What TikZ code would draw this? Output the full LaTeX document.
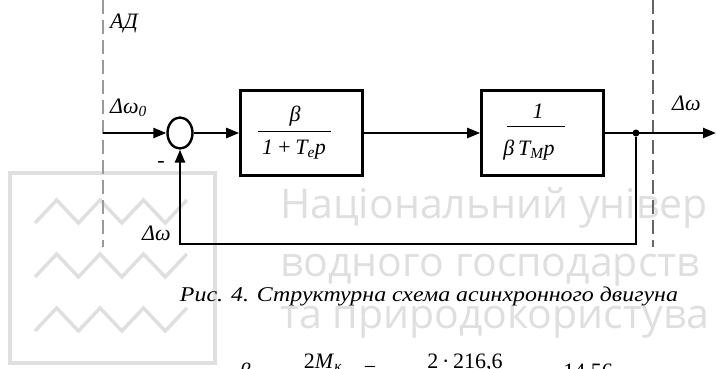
\documentclass[tikz,border=0pt]{standalone}
\usepackage{fontspec}
\usepackage{graphicx}
\setmainfont{Liberation Serif}
\newfontfamily\wmfont{Open Sans}
\usetikzlibrary{calc,arrows.meta,shapes.geometric}

\tikzset{
    blk/.style={draw, line width=2.6pt, minimum width=122pt, minimum height=85pt, inner sep=0pt},
    sig/.style={line width=2.4pt, -{Triangle[length=13pt,width=10pt]}},
    lbl/.style={inner sep=0pt, anchor=base west, font=\fontsize{22}{24}\selectfont\itshape},
    frac/.style={inner sep=0pt, anchor=base, font=\fontsize{22}{25}\selectfont\itshape},
    bnd/.style={line width=1.2pt, dash pattern=on 14pt off 6pt},
    wm/.style={inner sep=0pt, anchor=base west, text=gray!25, font=\wmfont\fontsize{41}{44}\selectfont},
    wmline/.style={draw=gray!25, line width=3.5pt, line join=miter}
}

\begin{document}
\begin{tikzpicture}[x=1pt,y=-1pt]
    \useasboundingbox (0,0) rectangle (716,368);
    \clip (0,0) rectangle (716,368);
    \pgfmathsetmacro{\ym}{133}	%signal line

    % watermark
    \draw[wmline] (10,173) rectangle (215,363);
    \foreach \dy in {0,54,108}{
        \draw[wmline] (35,223+\dy) -- ++(21.7,-23) -- ++(21.7,23) -- ++(21.7,-23) -- ++(21.7,23)
            -- ++(21.7,-23) -- ++(21.7,23) -- ++(21.7,-23);
    }
    \node[wm] (wm1) at (280,218) {Національний універ};
    \node[wm] (wm2) at (280,276) {водного господарств};
    \node[wm] (wm3) at (280,328) {та природокористува};

    % boundary of the motor
    \draw[bnd,black!40] (103,0) -- (103,247);
    \draw[bnd,black!60] (653,0) -- (653,247);
    \node[lbl] (ad) at (110,28) {АД};

    \coordinate (in) at (103,\ym);
    \coordinate (out) at (716,\ym);
    \coordinate (fb) at (636,244);

    \node[ellipse, draw, line width=2.4pt, minimum width=25pt, minimum height=31pt, inner sep=0pt] (sum) at (180,\ym) {};
    \node[blk] (blk1) at (301.5,\ym) {};
    \node[blk] (blk2) at (542.5,\ym) {};
    \node[circle, fill, inner sep=0pt, minimum size=7pt] (dot) at (636,\ym) {};

    % transfer functions
    \node[frac] (num1) at (295,121) {β};
    \node[frac] (den1) at (294,154) {1\,+\,T\textsubscript{е}p};
    \draw[line width=0.9pt] (258,131) -- (331,131);
    \node[frac] (num2) at (538,118) {1};
    \node[frac] (den2) at (529,155) {β\,T\textsubscript{М}p};
    \draw[line width=0.9pt] (507,126) -- (565,126);

    \draw[sig] (in) -- (sum);
    \draw[sig] (sum) -- (blk1);
    \draw[sig] (blk1) -- (blk2);
    \draw[sig] (blk2) -- (out);
    \draw[sig] (dot) -- (fb) -| (sum.south);

    \node[lbl] (w0) at (110,113) {Δω\textsubscript{0}};
    \node[lbl] (wout) at (672,110) {Δω};
    \node[lbl] (wfb) at (142,240) {Δω};
    \node[lbl,anchor=center] (minus) at (161,164) {-};

    % caption and formula
    \node[inner sep=0pt, anchor=base, font=\fontsize{21}{24}\selectfont\itshape] (cap) at (429,301)
        {\resizebox{498pt}{\height}{Рис. 4. Структурна схема асинхронного двигуна}};
    \node[frac] (beta) at (245,378) {β};
    \node[frac,font=\fontsize{22}{24}\selectfont] (fn1) at (323,368) {2\textit{M}\textsubscript{\textit{к}}};
    \node[frac,font=\fontsize{22}{24}\selectfont] (eq1) at (370,376) {=};
    \node[frac,font=\fontsize{22}{24}\selectfont] (fn2) at (465,368) {2\,·\,216,6};
    \node[frac,font=\fontsize{22}{24}\selectfont] (res) at (588,378) {14,56};
\end{tikzpicture}
\end{document}
